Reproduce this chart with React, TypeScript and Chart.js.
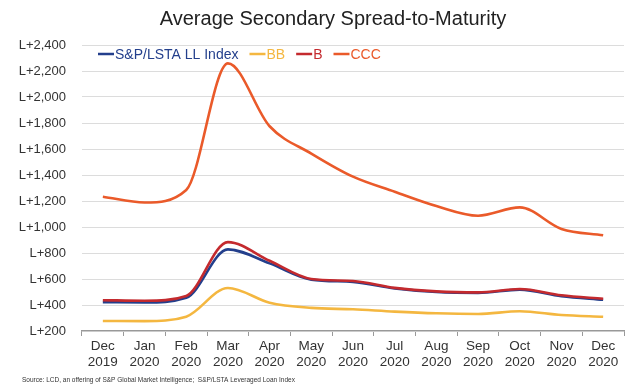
import React, { useEffect, useRef } from "react";
import { Chart, registerables } from "chart.js";

Chart.register(...registerables);

const months = [
  ["Dec", "2019"], ["Jan", "2020"], ["Feb", "2020"], ["Mar", "2020"], ["Apr", "2020"],
  ["May", "2020"], ["Jun", "2020"], ["Jul", "2020"], ["Aug", "2020"], ["Sep", "2020"],
  ["Oct", "2020"], ["Nov", "2020"], ["Dec", "2020"],
];

const indexValues = [422, 420, 455, 828, 720, 595, 578, 528, 500, 493, 518, 468, 440];
const bbValues = [277, 276, 310, 531, 418, 378, 367, 349, 336, 331, 352, 323, 310];
const bValues = [437, 433, 470, 884, 740, 600, 585, 532, 505, 497, 523, 475, 448];
const cccValues = [1233, 1188, 1285, 2259, 1775, 1565, 1387, 1271, 1161, 1087, 1151, 985, 936];

const yTicks = [200, 400, 600, 800, 1000, 1200, 1400, 1600, 1800, 2000, 2200, 2400];

const TITLE = "Average Secondary Spread-to-Maturity";
const SOURCE = "Source: LCD, an offering of S&P Global Market Intelligence;  S&P/LSTA Leveraged Loan Index";

const COLORS = {
  index: "#233f8c",
  bb: "#f4b740",
  b: "#c42a2e",
  ccc: "#ea5a2a",
};

const FONT = "'Liberation Sans', Arial, sans-serif";

const fmt = (v: number) => "L+" + v.toLocaleString("en-US");

const legendOrder = ["S&P/LSTA LL Index", "BB", "B", "CCC"];

const decorPlugin = {
  id: "decor",
  afterDraw(chart: any) {
    const ctx = chart.ctx;
    ctx.save();
    // title
    ctx.fillStyle = "#222";
    ctx.font = `20px ${FONT}`;
    ctx.textAlign = "center";
    ctx.textBaseline = "middle";
    ctx.fillText(TITLE, 333, 19);
    // legend
    ctx.font = `14px ${FONT}`;
    ctx.textAlign = "left";
    let x = 98;
    const y = 54;
    legendOrder.forEach((name) => {
      const ds = chart.data.datasets.find((d: any) => d.label === name);
      ctx.strokeStyle = ds.borderColor;
      ctx.lineWidth = 2.5;
      ctx.beginPath();
      ctx.moveTo(x, y);
      ctx.lineTo(x + 16, y);
      ctx.stroke();
      x += 17;
      ctx.fillStyle = ds.borderColor;
      ctx.fillText(ds.label, x, y + 1);
      x += ctx.measureText(ds.label).width + 11;
    });
    // source
    ctx.fillStyle = "#333";
    ctx.font = `6.5px ${FONT}`;
    ctx.textBaseline = "middle";
    ctx.fillText(SOURCE, 22, 380);
    ctx.restore();
  },
};

export default function App() {
  const ref = useRef<HTMLCanvasElement>(null);
  useEffect(() => {
    if (!ref.current) return;
    const mk = (label: string, data: number[], color: string, order: number) => ({
      label,
      data,
      order,
      borderColor: color,
      backgroundColor: color,
      borderWidth: 2.6,
      pointRadius: 0,
      cubicInterpolationMode: "monotone" as const,
      fill: false,
    });
    const chart = new Chart(ref.current, {
      type: "line",
      data: {
        labels: months,
        datasets: [
          mk("S&P/LSTA LL Index", indexValues, COLORS.index, 2),
          mk("BB", bbValues, COLORS.bb, 3),
          mk("B", bValues, COLORS.b, 1),
          mk("CCC", cccValues, COLORS.ccc, 0),
        ],
      },
      options: {
        responsive: false,
        animation: false,
        layout: { padding: { top: 45, right: 9, left: 0, bottom: 0 } },
        plugins: {
          legend: { display: false },
          title: { display: false },
          tooltip: { enabled: false },
        },
        scales: {
          x: {
            offset: true,
            grid: {
              offset: true,
              drawOnChartArea: false,
              drawTicks: true,
              tickLength: 5,
              color: "#999",
            },
            border: { color: "#999", width: 1.2 },
            ticks: {
              color: "#333",
              font: { family: FONT, size: 13.5 },
              padding: 2,
              maxRotation: 0,
              autoSkip: false,
            },
            afterFit: (s: any) => { s.height = 54; },
          },
          y: {
            min: 200,
            max: 2400,
            afterBuildTicks: (s: any) => { s.ticks = yTicks.map((v) => ({ value: v })); },
            grid: { color: "#dcdcdc", drawTicks: false, lineWidth: 1 },
            border: { display: false },
            ticks: {
              color: "#333",
              font: { family: FONT, size: 13 },
              padding: 16,
              callback: (v: any) => fmt(Number(v)),
            },
            afterFit: (s: any) => { s.width = 82; },
          },
        },
      },
      plugins: [decorPlugin],
    });
    return () => chart.destroy();
  }, []);
  return (
    <div style={{ position: "fixed", left: 0, top: 0, width: 633, height: 385, background: "#fff" }}>
      <canvas ref={ref} width={633} height={385} style={{ width: 633, height: 385 }} />
    </div>
  );
}
